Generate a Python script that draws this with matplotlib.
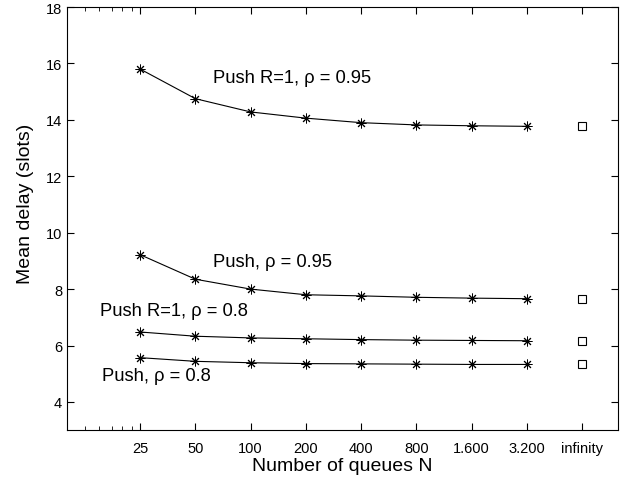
import numpy as np
import matplotlib.pyplot as plt

plt.rcParams['font.family'] = ['Liberation Sans', 'DejaVu Sans']

# posiciones en eje log (1 = N=25, cada duplicacion = x2)
pos = [1, 2, 4, 8, 16, 32, 64, 128]
pos_inf = 256
xlabels = ['25', '50', '100', '200', '400', '800', '1.600', '3.200', 'infinity']

push_r1_095 = [15.8, 14.75, 14.28, 14.06, 13.9, 13.82, 13.79, 13.77]
push_095 = [9.22, 8.35, 8.0, 7.8, 7.76, 7.71, 7.68, 7.66]
push_r1_08 = [6.48, 6.33, 6.27, 6.24, 6.21, 6.19, 6.18, 6.17]
push_08 = [5.57, 5.44, 5.39, 5.36, 5.35, 5.34, 5.33, 5.33]
inf_vals = [13.77, 7.66, 6.17, 5.33]

fig = plt.figure(figsize=(6.33, 4.85), dpi=100)
ax = fig.add_axes([0.106, 0.111, 0.870, 0.8725])

for serie in [push_r1_095, push_095, push_r1_08, push_08]:
    ax.plot(pos, serie, color='black', lw=0.8, marker=(8, 2, 0), ms=7,
            markeredgewidth=0.7)
ax.plot([pos_inf] * 4, inf_vals, ls='none', marker='s', ms=6,
        mfc='white', mec='black', mew=0.8)

ax.set_xscale('log')
ax.set_xlim(0.4, 400)
ax.set_ylim(3, 18)
ax.set_xticks(pos + [pos_inf])
ax.set_xticklabels(xlabels)
ax.set_xticks([0.5, 0.6, 0.7, 0.8, 0.9], minor=True)
ax.xaxis.set_minor_formatter(plt.NullFormatter())
ax.set_yticks([4, 6, 8, 10, 12, 14, 16, 18])

ax.tick_params(which='both', direction='in', top=True, right=True,
               labelsize=10.5)
ax.tick_params(which='major', length=5)
ax.tick_params(which='minor', length=3)
ax.tick_params(axis='x', pad=8)

ax.set_xlabel('Number of queues N', fontsize=14, labelpad=1)
ax.set_ylabel('Mean delay (slots)', fontsize=14)
ax.yaxis.set_label_coords(-0.06, 0.537)

ax.text(2.49, 15.5, 'Push R=1, ρ = 0.95', fontsize=13.2, va='center')
ax.text(2.49, 8.98, 'Push, ρ = 0.95', fontsize=13.2, va='center')
ax.text(0.607, 7.25, 'Push R=1, ρ = 0.8', fontsize=13.2, va='center')
ax.text(0.62, 4.95, 'Push, ρ = 0.8', fontsize=13.2, va='center')

fig.savefig('out.png', dpi=100)
